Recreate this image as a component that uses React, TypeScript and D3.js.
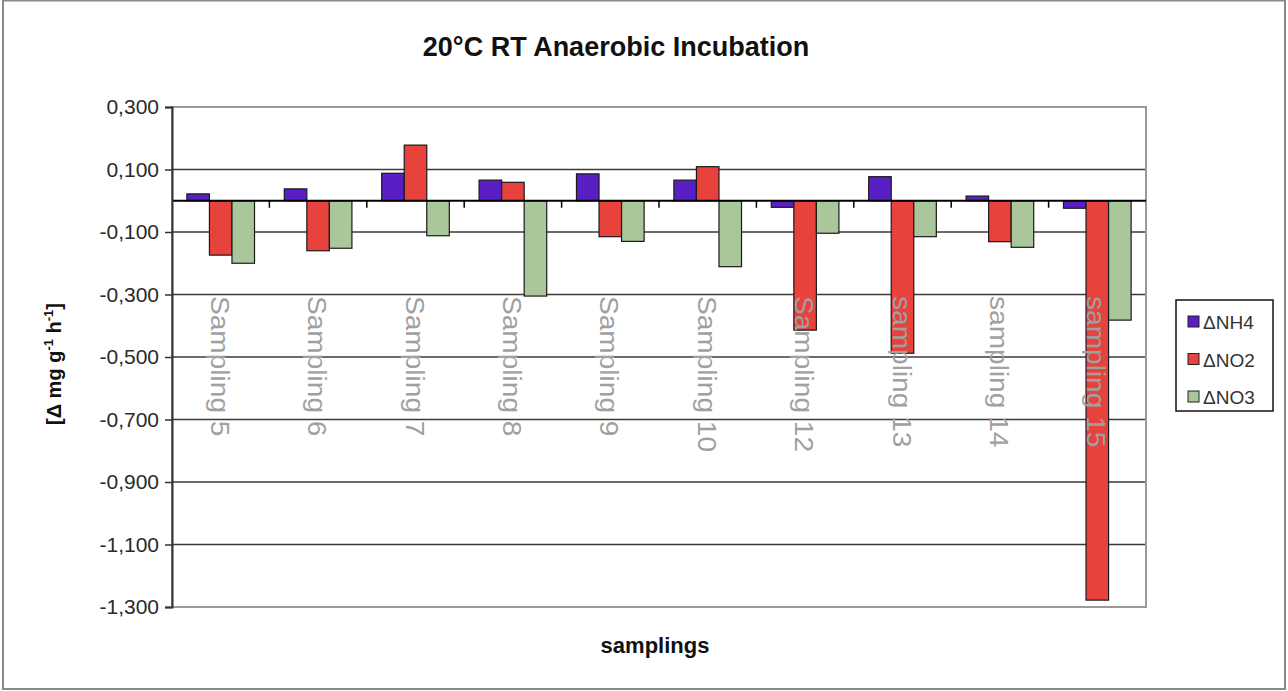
import React, { useRef, useEffect } from 'react';
import * as d3 from 'd3';

// Chart data
const categories = [
  'Sampling 5', 'Sampling 6', 'Sampling 7', 'Sampling 8', 'Sampling 9',
  'Sampling 10', 'Sampling 12', 'sampling 13', 'sampling 14', 'sampling 15'
];
const seriesNames = ['ΔNH4', 'ΔNO2', 'ΔNO3'];
const nh4Values = [0.022, 0.038, 0.088, 0.066, 0.086, 0.066, -0.021, 0.077, 0.015, -0.024];
const no2Values = [-0.174, -0.16, 0.178, 0.059, -0.115, 0.109, -0.414, -0.488, -0.131, -1.278];
const no3Values = [-0.2, -0.152, -0.112, -0.305, -0.13, -0.211, -0.104, -0.115, -0.149, -0.382];
const yTicks = [0.3, 0.1, -0.1, -0.3, -0.5, -0.7, -0.9, -1.1, -1.3];

const colors = ['#5a1fc4', '#e8423d', '#a9c79b'];

const App: React.FC = () => {
  const chartRef = useRef<SVGSVGElement | null>(null);

  useEffect(() => {
    if (!chartRef.current) return;
    const svg = d3.select(chartRef.current);
    svg.selectAll('*').remove();

    const width = 1288;
    const height = 691;
    const plot = { left: 172, right: 1146, top: 107, bottom: 607 };

    // outer chart border
    svg.append('rect')
      .attr('x', 3).attr('y', 0.5)
      .attr('width', 1282).attr('height', 688.5)
      .attr('fill', '#fff')
      .attr('stroke', '#8a8a8a')
      .attr('stroke-width', 2);

    const y = d3.scaleLinear().domain([-1.3, 0.3]).range([plot.bottom, plot.top]);
    const x0 = d3.scaleBand().domain(categories).range([plot.left, plot.right]).padding(0);
    const x1 = d3.scaleBand().domain(seriesNames).range([0, x0.bandwidth()])
      .paddingInner(0).paddingOuter(0.66);

    const data = categories.map((c, i) => ({
      category: c,
      values: [nh4Values[i], no2Values[i], no3Values[i]]
    }));

    // gridlines
    svg.append('g')
      .selectAll('line')
      .data(yTicks.slice(1, -1))
      .join('line')
      .attr('x1', plot.left).attr('x2', plot.right)
      .attr('y1', d => y(d)).attr('y2', d => y(d))
      .attr('stroke', '#3a3a3a')
      .attr('stroke-width', 1.6);

    // plot area border
    svg.append('rect')
      .attr('x', plot.left).attr('y', plot.top)
      .attr('width', plot.right - plot.left).attr('height', plot.bottom - plot.top)
      .attr('fill', 'none')
      .attr('stroke', '#9a9a9a')
      .attr('stroke-width', 2);

    // bars
    const groups = svg.append('g')
      .selectAll('g')
      .data(data)
      .join('g')
      .attr('transform', d => `translate(${x0(d.category)},0)`);

    groups.selectAll('rect')
      .data(d => d.values.map((v, j) => ({ key: seriesNames[j], value: v, idx: j })))
      .join('rect')
      .attr('x', d => x1(d.key) || 0)
      .attr('width', x1.bandwidth())
      .attr('y', d => y(Math.max(0, d.value)))
      .attr('height', d => Math.abs(y(d.value) - y(0)))
      .attr('fill', d => colors[d.idx])
      .attr('stroke', '#1a1a1a')
      .attr('stroke-width', 1.2);

    // category labels, rotated, drawn over bars
    svg.append('g')
      .selectAll('text')
      .data(categories)
      .join('text')
      .attr('transform', d => `translate(${(x0(d) || 0) + x0.bandwidth() / 2 - 10},296) rotate(90) scale(1.04,0.92)`)
      .attr('text-anchor', 'start')
      .attr('font-family', 'Liberation Sans, Arial, sans-serif')
      .attr('font-size', 27)
      .attr('fill', '#a0a0a0')
      .text(d => d);

    // zero axis with tick marks between categories
    svg.append('line')
      .attr('x1', plot.left).attr('x2', plot.right)
      .attr('y1', y(0)).attr('y2', y(0))
      .attr('stroke', '#000')
      .attr('stroke-width', 2);

    svg.append('g')
      .selectAll('line')
      .data(categories.slice(1))
      .join('line')
      .attr('x1', d => x0(d) || 0).attr('x2', d => x0(d) || 0)
      .attr('y1', y(0)).attr('y2', y(0) + 7)
      .attr('stroke', '#000')
      .attr('stroke-width', 1.5);

    // y axis
    const fmt = d3.format('.3f');
    const yAxis = svg.append('g')
      .attr('transform', `translate(${plot.left},0)`)
      .call(d3.axisLeft(y).tickValues(yTicks).tickSize(7).tickPadding(6)
        .tickFormat(d => fmt(+d).replace('\u2212', '-').replace('.', ',')));
    yAxis.select('.domain').attr('stroke', '#333').attr('stroke-width', 2);
    yAxis.selectAll('.tick line').attr('stroke', '#333').attr('stroke-width', 1.5);
    yAxis.selectAll('.tick text')
      .attr('font-family', 'Liberation Sans, Arial, sans-serif')
      .attr('font-size', 21)
      .attr('fill', '#2a2a2a');

    // title
    svg.append('text')
      .attr('x', 616).attr('y', 56)
      .attr('text-anchor', 'middle')
      .attr('font-family', 'Liberation Sans, Arial, sans-serif')
      .attr('font-weight', 'bold')
      .attr('font-size', 27)
      .attr('fill', '#111')
      .text('20°C RT Anaerobic Incubation');

    // x axis title
    svg.append('text')
      .attr('x', 655).attr('y', 653)
      .attr('text-anchor', 'middle')
      .attr('font-family', 'Liberation Sans, Arial, sans-serif')
      .attr('font-weight', 'bold')
      .attr('font-size', 22)
      .attr('fill', '#111')
      .text('samplings');

    // y axis title
    const yt = svg.append('text')
      .attr('transform', 'translate(61,364) rotate(-90)')
      .attr('text-anchor', 'middle')
      .attr('font-family', 'Liberation Sans, Arial, sans-serif')
      .attr('font-weight', 'bold')
      .attr('font-size', 20)
      .attr('fill', '#111');
    yt.append('tspan').text('[Δ mg g');
    yt.append('tspan').attr('dy', -8).attr('font-size', 13).text('-1');
    yt.append('tspan').attr('dy', 8).text(' h');
    yt.append('tspan').attr('dy', -8).attr('font-size', 13).text('-1');
    yt.append('tspan').attr('dy', 8).text(']');

    // legend
    const legend = svg.append('g');
    legend.append('rect')
      .attr('x', 1176).attr('y', 300)
      .attr('width', 97).attr('height', 111)
      .attr('fill', '#fff')
      .attr('stroke', '#111')
      .attr('stroke-width', 1.5);
    const items = legend.selectAll('g.item')
      .data(seriesNames)
      .join('g')
      .attr('class', 'item')
      .attr('transform', (_, i) => `translate(1188,${322 + i * 37.5})`);
    items.append('rect')
      .attr('x', 0).attr('y', -6)
      .attr('width', 11).attr('height', 11)
      .attr('fill', (_, i) => colors[i])
      .attr('stroke', '#222')
      .attr('stroke-width', 1);
    items.append('text')
      .attr('x', 15).attr('y', 7)
      .attr('font-family', 'Liberation Sans, Arial, sans-serif')
      .attr('font-size', 19)
      .attr('fill', '#333')
      .text(d => d);

    svg.attr('width', width).attr('height', height);
  }, []);

  return (
    <svg ref={chartRef} width={1288} height={691}
      style={{ position: 'absolute', left: 0, top: 0, background: '#fff' }} />
  );
};

export default App;
